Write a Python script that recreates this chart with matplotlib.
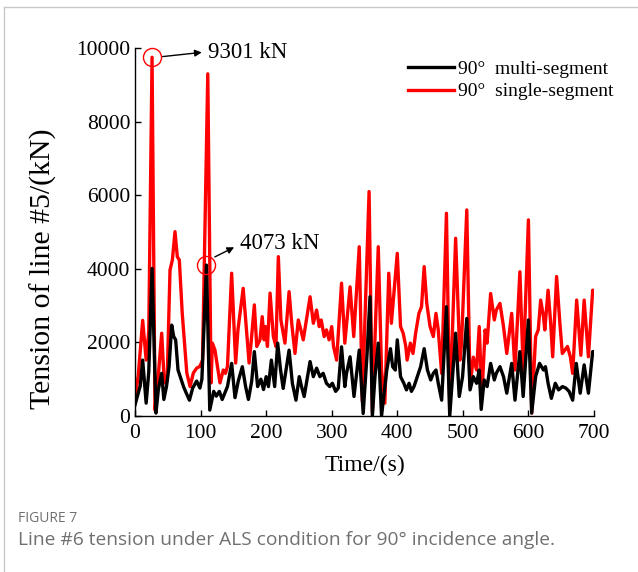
import matplotlib
matplotlib.use("Agg")
import matplotlib.pyplot as plt
from matplotlib.lines import Line2D

plt.rcParams['font.family'] = ['Liberation Serif', 'DejaVu Serif']
plt.rcParams['mathtext.fontset'] = 'stix'

# time (s) and tension (kN)
t_single = [0, 5, 11.7, 17, 21, 26, 30.5, 35, 40.7, 44.7, 49, 53.4, 57, 61, 64.5, 67.6, 72, 76, 79,
            84, 89, 94, 99, 103, 111, 116, 118, 122, 124, 129.6, 134.7, 138, 141, 147.4, 153.5,
            157, 165, 170, 174, 177, 182, 185.7, 190.6, 194, 197, 199, 202, 206, 211, 215, 218.6,
            222.5, 226, 228.7, 235, 239, 244, 249, 253, 256.6, 267, 272, 277, 281, 284, 288.5,
            292, 296, 300, 302.8, 307.5, 315, 320, 328, 333.6, 342, 346.7, 350, 357, 362, 371,
            376, 381, 387, 391, 400, 405, 409, 413, 415, 420, 424, 428, 433, 437, 441, 445, 450,
            455, 459, 462.5, 467.7, 475, 480, 489, 495.6, 498, 506, 511, 516, 521, 525, 529, 534,
            537, 542.4, 548, 551, 556.6, 562, 567, 574.5, 579.5, 587, 592, 600, 605, 611, 615,
            618.7, 623, 625, 630, 634, 637, 643, 648, 651.7, 656, 659.6, 664, 667.5, 673.6, 680,
            685, 691.5, 698, 700]
v_single = [500, 1100, 2600, 1520, 2300, 9750, 160, 980, 2250, 900, 950, 3970, 4240, 5010, 4330,
            4240, 2800, 1880, 1170, 800, 1170, 1300, 1350, 1520, 9300, 900, 1980, 1790, 1550, 900,
            1250, 1160, 1350, 3880, 1440, 2340, 3470, 2340, 1440, 1980, 3020, 1890, 2070, 2700,
            2070, 2430, 1890, 3340, 2160, 1890, 4330, 2610, 2250, 1980, 3380, 2520, 1700, 2610,
            2340, 2070, 3240, 2520, 2880, 2430, 2610, 2160, 2340, 2070, 2430, 1890, 1520, 3610,
            1980, 3510, 2160, 4600, 400, 2250, 6100, 100, 4600, 1250, 350, 3880, 2520, 4420, 2430,
            2250, 1890, 1520, 1980, 1700, 2250, 2790, 2970, 4060, 3060, 2430, 2160, 2790, 2340,
            1160, 5510, 160, 4830, 1520, 1980, 5600, 800, 1600, 1250, 2430, 520, 2340, 1980, 3330,
            2610, 2880, 3060, 2430, 1700, 2790, 1250, 3920, 1250, 5330, 80, 2160, 2340, 3150, 2700,
            2340, 3420, 2520, 1610, 3790, 2520, 1700, 1800, 1890, 1610, 1160, 3150, 1650, 3150,
            1610, 3420, 3400]

t_multi = [0, 8, 11.7, 17, 21, 26, 32, 35.6, 40.7, 44, 48, 52, 56, 59, 62, 65.6, 69, 74, 78, 83,
           88, 94, 99, 102, 109, 114, 120, 124, 128.6, 133, 138, 141, 147.4, 152.5, 157.5, 163.7,
           168.7, 173, 178, 182, 187, 192, 196, 200, 203.5, 208, 213, 217.6, 222, 226, 235, 240,
           245.5, 250.5, 254, 258, 267, 272, 277, 282, 287, 292, 297, 301, 306, 310, 315, 320,
           322.6, 328, 334, 342, 348, 353.7, 358.4, 362, 366, 371, 376, 384, 389.6, 393, 397, 400,
           405, 410, 414, 418, 421.6, 425.5, 430.5, 435.6, 441, 446, 451, 455, 459, 462.5, 467.7,
           475, 480, 489, 494.5, 499.6, 506, 511, 516, 521, 525, 528, 532.6, 537, 542.4, 548, 551,
           556.6, 562, 567, 574.5, 579.5, 587, 592, 600, 605, 611, 617, 623, 626, 630, 635, 641,
           646, 652, 657, 662, 667.5, 673, 679, 685, 691.5, 698, 700]
v_multi = [300, 820, 1520, 350, 1200, 4010, 80, 720, 1160, 450, 800, 1350, 2470, 2160, 2070, 1250,
           1070, 800, 630, 430, 760, 950, 760, 1000, 4100, 160, 670, 540, 670, 450, 670, 800, 1430,
           500, 950, 1340, 800, 450, 950, 1750, 800, 1000, 720, 1070, 800, 1520, 800, 1980, 1250,
           750, 1790, 890, 430, 1070, 800, 530, 1480, 1070, 1300, 1070, 1160, 890, 800, 890, 670,
           760, 1880, 800, 1160, 1610, 530, 1790, 70, 1610, 3240, 0, 1070, 1980, 0, 1250, 1830,
           1340, 1250, 2070, 1070, 890, 710, 890, 670, 800, 1070, 1340, 1830, 1250, 980, 1160,
           1250, 890, 430, 2970, 0, 2250, 530, 1070, 2650, 710, 1070, 890, 1250, 180, 980, 800,
           1430, 980, 1160, 1340, 1070, 620, 1430, 430, 1750, 530, 2610, 80, 1070, 1430, 1250,
           1340, 890, 480, 890, 710, 800, 760, 670, 430, 1430, 620, 1390, 620, 1750, 1750]

xticks = [0, 100, 200, 300, 400, 500, 600, 700]
yticks = [0, 2000, 4000, 6000, 8000, 10000]

fig = plt.figure(figsize=(6.38, 5.72), dpi=100)
ax = fig.add_axes([0.2116, 0.2727, 0.7194, 0.6433])

ax.plot(t_single, v_single, color='red', lw=2.4, zorder=2)
ax.plot(t_multi, v_multi, color='black', lw=2.4, zorder=3)

ax.set_xlim(0, 700)
ax.set_ylim(0, 10000)
ax.set_xticks(xticks)
ax.set_yticks(yticks)
ax.tick_params(direction='in', labelsize=15.5, length=4, width=1)
ax.tick_params(axis='x', pad=6)
for s in ['top', 'right']:
    ax.spines[s].set_visible(False)
for s in ['left', 'bottom']:
    ax.spines[s].set_linewidth(1)

ax.set_xlabel('Time/(s)', fontsize=17, labelpad=8)
ax.set_ylabel('Tension of line #5/(kN)', fontsize=21.5)
ax.yaxis.set_label_coords(-0.17, 0.40)

# peak markers
ax.plot([26.4], [9750], 'o', ms=13, mfc='none', mec='red', mew=1, zorder=4, clip_on=False)
ax.plot([109], [4100], 'o', ms=13, mfc='none', mec='red', mew=1, zorder=4)
ax.annotate('9301 kN', xy=(107, 9890), xytext=(111, 9890), fontsize=16.5, va='center')
ax.annotate('', xy=(106, 9890), xytext=(38, 9760),
            arrowprops=dict(arrowstyle='-|>', color='black', lw=1, mutation_scale=10))
ax.annotate('4073 kN', xy=(160, 4700), xytext=(160, 4700), fontsize=16.5, va='center')
ax.annotate('', xy=(155, 4620), xytext=(118, 4290),
            arrowprops=dict(arrowstyle='-|>', color='black', lw=1, mutation_scale=10))

handles = [Line2D([], [], color='black', lw=2.4), Line2D([], [], color='red', lw=2.4)]
ax.legend(handles, ['90°  multi-segment', '90°  single-segment'], loc='upper right',
          bbox_to_anchor=(1.081, 1.014), frameon=False, fontsize=14, handlelength=2.4,
          handletextpad=0.2, labelspacing=0.25)

# page frame and caption
fig.add_artist(Line2D([4 / 638, 4 / 638], [0, 1 - 7 / 572], color='#c8c8c8', lw=1))
fig.add_artist(Line2D([4 / 638, 1], [1 - 7 / 572, 1 - 7 / 572], color='#c8c8c8', lw=1))
fig.text(18 / 638, 1 - 518 / 572, 'FIGURE 7', fontsize=10, color='#707070',
         family=['Open Sans', 'DejaVu Sans'], va='center')
fig.text(18 / 638, 1 - 540 / 572, 'Line #6 tension under ALS condition for 90° incidence angle.',
         fontsize=13.8, color='#707070', family=['Open Sans', 'DejaVu Sans'], va='center')

fig.savefig('out.png', dpi=100)
